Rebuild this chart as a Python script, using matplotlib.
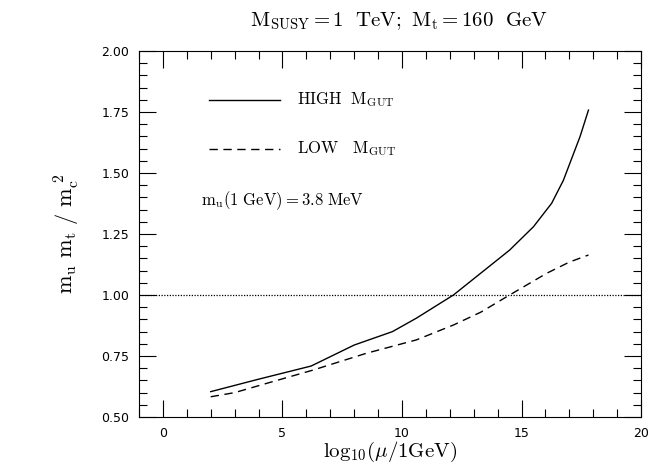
import numpy as np
import matplotlib.pyplot as plt
from matplotlib.ticker import MultipleLocator

plt.rcParams['mathtext.fontset'] = 'cm'
plt.rcParams['font.family'] = 'DejaVu Sans'

# ratio m_u m_t / m_c^2 vs log10(mu / 1 GeV)
x_high = [2.0, 4.0, 6.2, 8.0, 9.6, 10.6, 12.15, 13.3, 14.5, 15.5, 16.26, 16.75, 17.45, 17.8]
y_high = [0.604, 0.655, 0.709, 0.795, 0.850, 0.905, 1.000, 1.090, 1.184, 1.280, 1.376, 1.470, 1.650, 1.758]

x_low = [2.0, 3.0, 4.34, 6.3, 8.5, 10.6, 12.15, 13.3, 14.5, 16.05, 17.0, 17.8]
y_low = [0.583, 0.600, 0.638, 0.693, 0.761, 0.816, 0.877, 0.930, 1.000, 1.089, 1.135, 1.164]

ref_level = 1.0

fig = plt.figure(figsize=(6.65, 4.71), dpi=100)
ax = fig.add_axes([0.209, 0.1146, 0.755, 0.777])

ax.plot(x_high, y_high, color='black', lw=1.0)
ax.plot(x_low, y_low, color='black', lw=1.0, ls=(0, (6, 4)))
ax.axhline(ref_level, color='black', lw=0.9, ls=(0, (1, 1.2)))

ax.set_xlim(-1, 20)
ax.set_ylim(0.5, 2.0)
ax.xaxis.set_major_locator(MultipleLocator(5))
ax.xaxis.set_minor_locator(MultipleLocator(1))
ax.yaxis.set_major_locator(MultipleLocator(0.25))
ax.yaxis.set_minor_locator(MultipleLocator(0.05))
ax.tick_params(which='both', direction='in', top=True, right=True, width=0.8)
ax.tick_params(which='major', length=12, labelsize=9, pad=7)
ax.tick_params(which='minor', length=6)
ax.set_yticklabels([f'{v:.2f}' for v in ax.get_yticks()])
for s in ax.spines.values():
    s.set_linewidth(0.8)

# legend drawn inside the frame
ax.plot([1.92, 4.9], [1.80, 1.80], color='black', lw=1.0)
ax.text(5.6, 1.80, r'$\mathrm{HIGH\ \ M_{GUT}}$', fontsize=12, va='center')
ax.plot([1.92, 4.9], [1.60, 1.60], color='black', lw=1.0, ls=(0, (6, 4)))
ax.text(5.6, 1.60, r'$\mathrm{LOW\ \ \ M_{GUT}}$', fontsize=12, va='center')
ax.text(1.6, 1.385, r'$\mathrm{m_u(1\ GeV){=}3.8\ MeV}$', fontsize=12, va='center')

fig.text(0.6, 0.955, r'$\mathrm{M_{SUSY}{=}1\ \ TeV;\ M_t{=}160\ \ GeV}$',
         fontsize=15, ha='center', va='center')
ax.set_xlabel(r'$\mathrm{log_{10}(\mu/1GeV)}$', fontsize=15, labelpad=0)
ax.set_ylabel(r'$\mathrm{m_u\ m_t\ /\ m_c^{\ 2}}$', fontsize=16, labelpad=14)

fig.savefig('out.png', dpi=100)
